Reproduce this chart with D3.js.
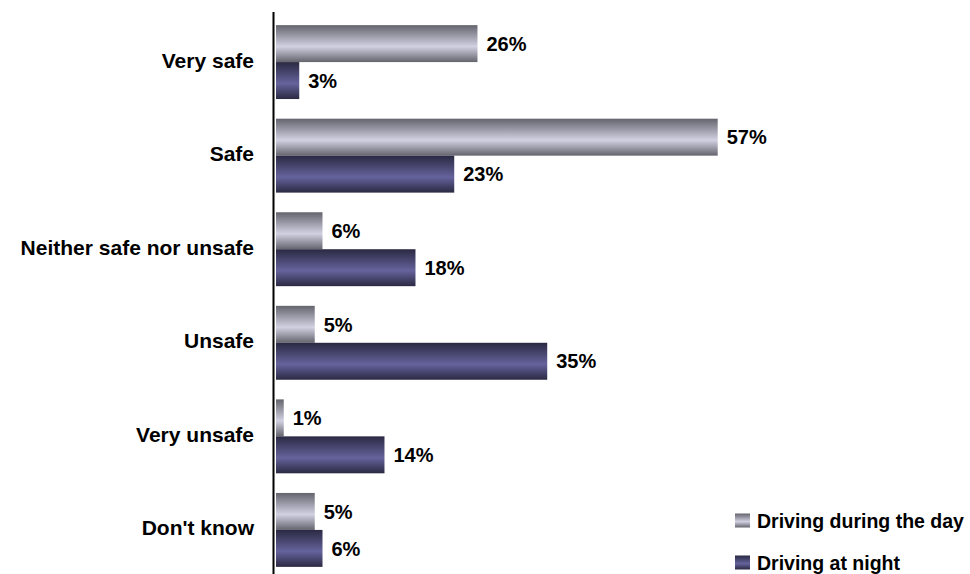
<!DOCTYPE html>
<html><head><meta charset="utf-8">
<script src="https://cdn.jsdelivr.net/npm/d3@7"></script>
<style>body{margin:0;background:#fff;} svg{display:block;}</style>
</head><body>
<script>
const categories = ["Very safe","Safe","Neither safe nor unsafe","Unsafe","Very unsafe","Don't know"];
const seriesNames = ["Driving during the day","Driving at night"];
const dayValues = [26,57,6,5,1,5];
const nightValues = [3,23,18,35,14,6];

const W = 970, H = 574;
const x0 = 276;
const svg = d3.select("body").append("svg").attr("width",W).attr("height",H);
const FONT = "'Liberation Sans','Arial',sans-serif";

const defs = svg.append("defs");
function grad(id, edge, mid){
  const g = defs.append("linearGradient").attr("id",id).attr("x1",0).attr("y1",0).attr("x2",0).attr("y2",1);
  g.append("stop").attr("offset","0%").attr("stop-color",edge);
  g.append("stop").attr("offset","58%").attr("stop-color",mid);
  g.append("stop").attr("offset","100%").attr("stop-color",edge);
}
grad("gDay","#64646e","#d2d1e2");
grad("gNight","#2a2942","#65639c");
const fills = ["url(#gDay)","url(#gNight)"];

const x = d3.scaleLinear().domain([0,57]).range([x0,717.7]);
const y = d3.scaleBand().domain(categories).range([15.3,576.7]).paddingInner(0.21).paddingOuter(0.105);
const ySub = d3.scaleBand().domain([0,1]).range([0,y.bandwidth()]);

const data = categories.map((c,i)=>({c, v:[dayValues[i], nightValues[i]]}));

const g = svg.append("g");
data.forEach(d=>{
  d.v.forEach((v,k)=>{
    const yy = y(d.c)+ySub(k);
    g.append("rect").attr("x",x(0)).attr("y",yy).attr("width",x(v)-x(0)).attr("height",ySub.bandwidth()).attr("fill",fills[k]);
    g.append("text").attr("x",x(v)+9).attr("y",yy+ySub.bandwidth()/2).attr("dy","0.36em")
      .attr("font-family",FONT).attr("font-weight","bold").attr("font-size",20).attr("fill","#000").text(v+"%");
  });
  g.append("text").attr("x",254).attr("y",y(d.c)+y.bandwidth()/2-2).attr("dy","0.36em").attr("text-anchor","end")
    .attr("font-family",FONT).attr("font-weight","bold").attr("font-size",21).attr("fill","#000").text(d.c);
});

svg.append("line").attr("x1",273.5).attr("x2",273.5).attr("y1",12).attr("y2",574).attr("stroke","#000").attr("stroke-width",2);

const leg = svg.append("g");
seriesNames.forEach((n,k)=>{
  const ly = 520.5 + k*42;
  leg.append("rect").attr("x",735).attr("y",ly-7).attr("width",15).attr("height",14).attr("fill",fills[k]);
  leg.append("text").attr("x",757).attr("y",ly).attr("dy","0.36em").attr("font-family",FONT).attr("font-weight","bold").attr("font-size",19.5).text(n);
});
</script>
</body></html>
